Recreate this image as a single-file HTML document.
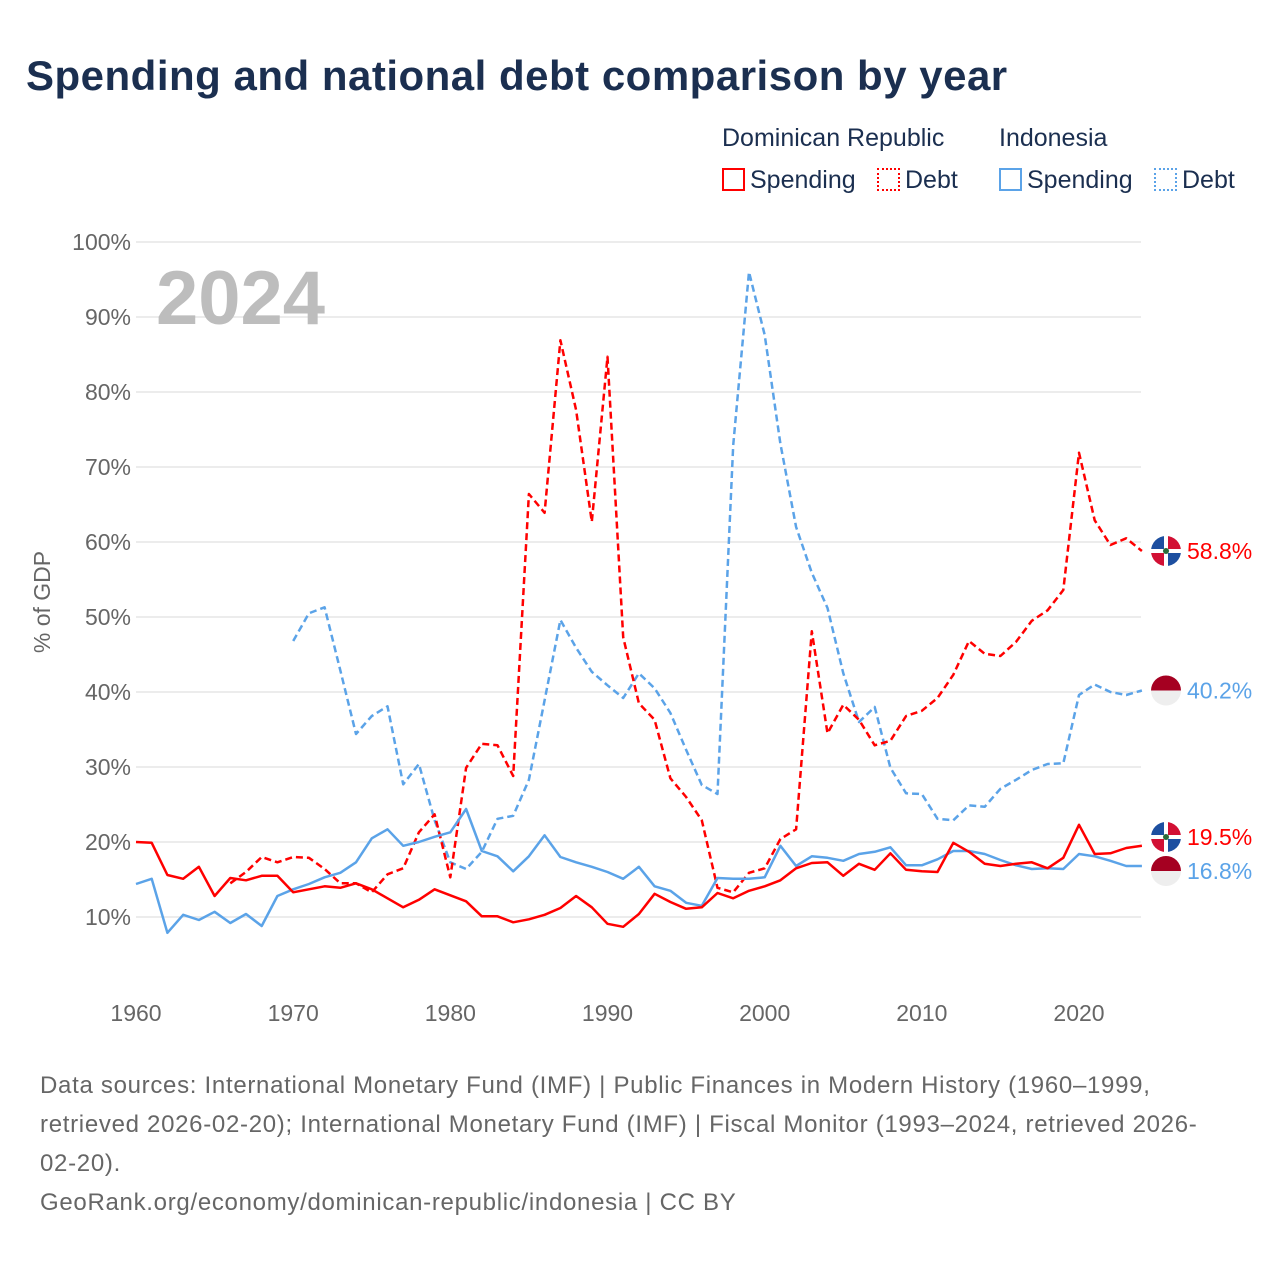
<!DOCTYPE html>
<html><head><meta charset="utf-8">
<style>
body{margin:0;background:#fff;font-family:"Liberation Sans",sans-serif;}
#wrap{position:relative;width:1280px;height:1280px;overflow:hidden;}
h1{position:absolute;left:26px;top:52px;margin:0;font-size:42px;font-weight:bold;color:#1b2f50;letter-spacing:0.5px;white-space:nowrap;}
.leg{position:absolute;font-size:25px;color:#1b2f50;white-space:nowrap;}
.sw{display:inline-block;width:23px;height:23px;vertical-align:-3px;margin-right:5px;box-sizing:border-box;}
.foot{position:absolute;left:40px;font-size:24px;color:#666;line-height:39px;top:1066px;width:1240px;white-space:nowrap;letter-spacing:0.7px;}
</style></head><body>
<div id="wrap">
<h1>Spending and national debt comparison by year</h1>
<div class="leg" style="left:722px;top:124px">Dominican Republic</div>
<div class="leg" style="left:999px;top:124px">Indonesia</div>
<div class="leg" style="left:722px;top:166px"><span class="sw" style="border:2px solid #f00"></span>Spending</div>
<div class="leg" style="left:877px;top:166px"><span class="sw" style="border:2px dotted #f00"></span>Debt</div>
<div class="leg" style="left:999px;top:166px"><span class="sw" style="border:2px solid #5ba3e8"></span>Spending</div>
<div class="leg" style="left:1154px;top:166px"><span class="sw" style="border:2px dotted #5ba3e8"></span>Debt</div>
<svg id="chart" width="1280" height="1280" style="position:absolute;left:0;top:0"></svg>
<div class="foot">Data sources: International Monetary Fund (IMF) | Public Finances in Modern History (1960–1999,<br>retrieved 2026-02-20); International Monetary Fund (IMF) | Fiscal Monitor (1993–2024, retrieved 2026-<br>02-20).<br>GeoRank.org/economy/dominican-republic/indonesia | CC BY</div>
</div>
<script>
const drSpendStart=1960;
const drSpending=[20.0,19.9,15.6,15.1,16.7,12.8,15.2,14.9,15.5,15.5,13.3,13.7,14.1,13.9,14.5,13.7,12.5,11.3,12.3,13.7,12.9,12.1,10.1,10.1,9.3,9.7,10.3,11.2,12.8,11.3,9.1,8.7,10.4,13.1,12.0,11.1,11.3,13.2,12.5,13.5,14.1,14.9,16.5,17.2,17.3,15.5,17.1,16.3,18.5,16.3,16.1,16.0,19.9,18.7,17.1,16.8,17.1,17.3,16.5,17.9,22.3,18.4,18.5,19.2,19.5];
const idSpendStart=1960;
const idSpending=[14.4,15.1,7.9,10.3,9.6,10.7,9.2,10.4,8.8,12.8,13.7,14.4,15.3,15.9,17.3,20.5,21.7,19.5,20.0,20.7,21.3,24.4,18.8,18.1,16.1,18.1,20.9,18.0,17.3,16.7,16.0,15.1,16.7,14.1,13.5,11.9,11.5,15.2,15.1,15.1,15.3,19.5,16.8,18.1,17.9,17.5,18.4,18.7,19.3,16.9,16.9,17.7,18.8,18.8,18.4,17.6,16.9,16.4,16.5,16.4,18.4,18.1,17.5,16.8,16.8];
const drDebtStart=1966;
const drDebt=[14.5,16.0,18.0,17.3,18.0,17.9,16.4,14.5,14.5,13.3,15.7,16.5,21.3,23.7,15.3,29.9,33.1,32.9,28.8,66.4,63.9,86.9,77.6,62.7,84.7,47.3,38.5,36.3,28.5,26.0,22.9,13.9,13.3,15.9,16.5,20.4,21.7,48.1,34.5,38.3,36.3,32.9,33.5,36.8,37.5,39.2,42.3,46.8,45.1,44.8,46.7,49.5,50.9,53.6,71.9,62.9,59.6,60.5,58.8];
const idDebtStart=1970;
const idDebt=[46.8,50.5,51.3,42.9,34.4,36.8,38.1,27.7,30.4,22.9,17.3,16.4,18.7,23.1,23.5,28.3,38.9,49.6,45.9,42.7,40.9,39.2,42.5,40.5,37.2,32.3,27.6,26.4,72.9,96.0,87.6,73.1,62.0,55.9,51.2,42.5,36.0,38.0,29.9,26.5,26.4,23.1,22.9,24.9,24.7,27.1,28.3,29.6,30.4,30.5,39.6,41.0,40.0,39.6,40.2];
const yTicks=[10,20,30,40,50,60,70,80,90,100];
const xTicks=[1960,1970,1980,1990,2000,2010,2020];

const NS="http://www.w3.org/2000/svg";
const svg=document.getElementById('chart');
const X=y=>136+(y-1960)*(1079-136)/60;
const Y=v=>992-v*7.5;
function mk(t,a){const e=document.createElementNS(NS,t);for(const k in a)e.setAttribute(k,a[k]);svg.appendChild(e);return e;}
yTicks.forEach(v=>{
  const g=mk('line',{x1:136,x2:1141,y1:Y(v),y2:Y(v),stroke:'#e6e6e6','stroke-width':1.5});
  
  
  const t=mk('text',{x:131,y:Y(v)+8,'text-anchor':'end','font-size':23,fill:'#666','font-family':'Liberation Sans'});
  t.textContent=v+'%';
  
  
});
xTicks.forEach(yr=>{
  const t=mk('text',{x:X(yr),y:1021,'text-anchor':'middle','font-size':23,fill:'#666','font-family':'Liberation Sans'});
  t.textContent=yr;
  
  
});
const yl=mk('text',{x:0,y:0,transform:'translate(50,602) rotate(-90)','text-anchor':'middle','font-size':23,fill:'#666','font-family':'Liberation Sans'});
yl.textContent='% of GDP';


const big=mk('text',{x:156,y:324,'font-size':76,'font-weight':'bold',fill:'#bdbdbd','font-family':'Liberation Sans'});
big.textContent='2024';


function line(arr,start,color,dash,name){
  const d=arr.map((v,i)=>(i?'L':'M')+X(start+i).toFixed(1)+','+Y(v).toFixed(1)).join('');
  const p=mk('path',{d:d,fill:'none',stroke:color,'stroke-width':2.5,'stroke-linejoin':'round'});
  if(dash)p.setAttribute('stroke-dasharray','7,4');
  
  
}
line(idDebt,idDebtStart,'#5ba3e8',true,'line-indonesia-debt');
line(drDebt,drDebtStart,'#ff0000',true,'line-dr-debt');
line(idSpending,idSpendStart,'#5ba3e8',false,'line-indonesia-spending');
line(drSpending,drSpendStart,'#ff0000',false,'line-dr-spending');
function endLabel(v,color,flag,name,ly){
  const cx=1166,cy=ly;
  if(flag==='dr'){
    const g=mk('g',{});
    
    
    [['#1d4fa0',-1,-1],['#d21034',1,-1],['#d21034',-1,1],['#1d4fa0',1,1]].forEach(q=>{
      const e=document.createElementNS(NS,'path');
      const [c,sx,sy]=q;
      e.setAttribute('d',`M${cx},${cy} L${cx+15*sx},${cy} A15 15 0 0 ${sx*sy>0?1:0} ${cx},${cy+15*sy} Z`);
      e.setAttribute('fill',c);g.appendChild(e);
    });
    const h=document.createElementNS(NS,'rect');h.setAttribute('x',cx-15);h.setAttribute('y',cy-2);h.setAttribute('width',30);h.setAttribute('height',4);h.setAttribute('fill','#fff');g.appendChild(h);
    const w=document.createElementNS(NS,'rect');w.setAttribute('x',cx-2);w.setAttribute('y',cy-15);w.setAttribute('width',4);w.setAttribute('height',30);w.setAttribute('fill','#fff');g.appendChild(w);
    const c=document.createElementNS(NS,'circle');c.setAttribute('cx',cx);c.setAttribute('cy',cy);c.setAttribute('r',3);c.setAttribute('fill','#2a6b3a');g.appendChild(c);
  } else {
    const g=mk('g',{});
    
    
    const a=document.createElementNS(NS,'path');a.setAttribute('d',`M${cx-15},${cy} A15 15 0 0 1 ${cx+15},${cy} Z`);a.setAttribute('fill','#a50021');g.appendChild(a);
    const b=document.createElementNS(NS,'path');b.setAttribute('d',`M${cx-15},${cy} A15 15 0 0 0 ${cx+15},${cy} Z`);b.setAttribute('fill','#eeeeee');g.appendChild(b);
  }
  const t=mk('text',{x:1187,y:ly+8,'font-size':23,fill:color,'font-family':'Liberation Sans'});
  t.textContent=v.toFixed(1)+'%';
  
  
}
endLabel(drDebt[drDebt.length-1],'#ff0000','dr','end-label-dr-debt',Y(drDebt[drDebt.length-1]));
endLabel(idDebt[idDebt.length-1],'#5ba3e8','id','end-label-id-debt',Y(idDebt[idDebt.length-1]));
endLabel(drSpending[drSpending.length-1],'#ff0000','dr','end-label-dr-spending',837);
endLabel(idSpending[idSpending.length-1],'#5ba3e8','id','end-label-id-spending',871);
</script>
</body></html>
